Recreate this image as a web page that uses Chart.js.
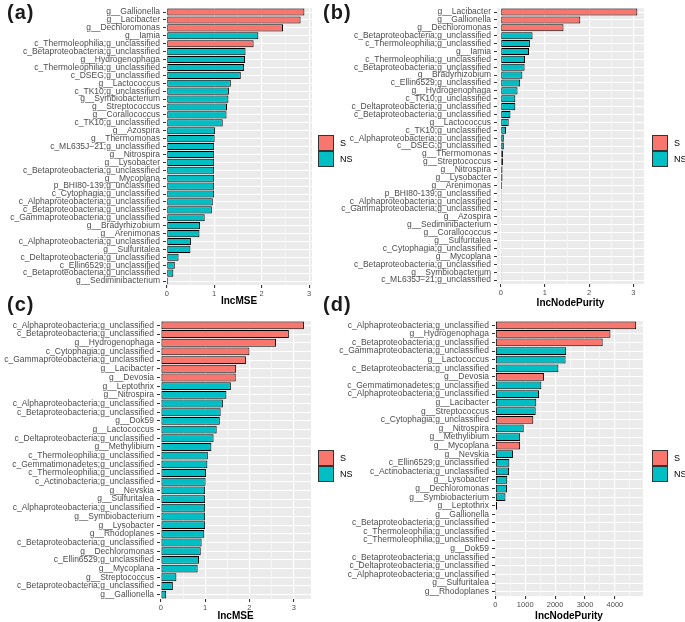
<!DOCTYPE html>
<html>
<head>
<meta charset="utf-8">
<script src="https://cdn.jsdelivr.net/npm/chart.js@4.4.1/dist/chart.umd.min.js"></script>
<style>
  body { margin: 0; background: #fff; font-family: "Liberation Sans", Arial, sans-serif; }
  #wrap { position: relative; width: 685px; height: 622px; overflow: hidden; }
  canvas { position: absolute; }
  .tag { position: absolute; font-weight: bold; font-size: 20px; line-height: 20px; letter-spacing: 1px; color: #1a1a1a; }
  .legend { position: absolute; font-size: 9px; color: #000; }
  .legend .row { position: relative; height: 16px; line-height: 16px; }
  .legend .box { position: absolute; left: 0; top: 0; width: 14px; height: 14px; border: 1px solid #333; }
  .legend .txt { position: absolute; left: 22px; top: 0; }
</style>
</head>
<body>
<div id="wrap">
  <canvas id="chartA" width="345" height="311" style="left:0;top:0"></canvas>
  <canvas id="chartB" width="355" height="311" style="left:330px;top:0"></canvas>
  <canvas id="chartC" width="345" height="311" style="left:0;top:311px"></canvas>
  <canvas id="chartD" width="355" height="311" style="left:330px;top:311px"></canvas>

  <div class="tag" style="left:7px;top:2px">(a)</div>
  <div class="tag" style="left:323px;top:2px">(b)</div>
  <div class="tag" style="left:7px;top:294px">(c)</div>
  <div class="tag" style="left:323px;top:294px">(d)</div>

  <div class="legend" style="left:318px;top:135px">
    <div class="row"><span class="box" style="background:#F8766D"></span><span class="txt">S</span></div>
    <div class="row"><span class="box" style="background:#00BFC4"></span><span class="txt">NS</span></div>
  </div>
  <div class="legend" style="left:652px;top:135px">
    <div class="row"><span class="box" style="background:#F8766D"></span><span class="txt">S</span></div>
    <div class="row"><span class="box" style="background:#00BFC4"></span><span class="txt">NS</span></div>
  </div>
  <div class="legend" style="left:318px;top:450px">
    <div class="row"><span class="box" style="background:#F8766D"></span><span class="txt">S</span></div>
    <div class="row"><span class="box" style="background:#00BFC4"></span><span class="txt">NS</span></div>
  </div>
  <div class="legend" style="left:652px;top:450px">
    <div class="row"><span class="box" style="background:#F8766D"></span><span class="txt">S</span></div>
    <div class="row"><span class="box" style="background:#00BFC4"></span><span class="txt">NS</span></div>
  </div>
</div>

<script>
// (a) IncMSE
const aLabels = ['g__Gallionella', 'g__Lacibacter', 'g__Dechloromonas', 'g__Iamia',
  'c_Thermoleophilia;g_unclassified', 'c_Betaproteobacteria;g_unclassified', 'g__Hydrogenophaga',
  'c_Thermoleophilia;g_unclassified', 'c_DSEG;g_unclassified', 'g__Lactococcus', 'c_TK10;g_unclassified',
  'g__Symbiobacterium', 'g__Streptococcus', 'g__Corallococcus', 'c_TK10;g_unclassified', 'g__Azospira',
  'g__Thermomonas', 'c_ML635J\u221221;g_unclassified', 'g__Nitrospira', 'g__Lysobacter',
  'c_Betaproteobacteria;g_unclassified', 'g__Mycoplana', 'p_BHI80-139;g_unclassified',
  'c_Cytophagia;g_unclassified', 'c_Alphaproteobacteria;g_unclassified', 'c_Betaproteobacteria;g_unclassified',
  'c_Gammaproteobacteria;g_unclassified', 'g__Bradyrhizobium', 'g__Arenimonas',
  'c_Alphaproteobacteria;g_unclassified', 'g__Sulfuritalea', 'c_Deltaproteobacteria;g_unclassified',
  'c_Ellin6529;g_unclassified', 'c_Betaproteobacteria;g_unclassified', 'g__Sediminibacterium'];
const aValues = [2.90, 2.82, 2.45, 1.93, 1.83, 1.66, 1.65, 1.63, 1.56, 1.35, 1.31, 1.30, 1.27, 1.26, 1.18,
  1.02, 1.01, 1.0, 1.0, 1.0, 1.0, 1.0, 1.0, 1.0, 0.97, 0.95, 0.80, 0.70, 0.69, 0.51, 0.50, 0.25, 0.17, 0.14, 0.03];
const aGroups = ['S', 'S', 'S', 'NS', 'S', 'NS', 'NS', 'NS', 'NS', 'NS', 'NS', 'NS', 'NS', 'NS', 'NS', 'NS', 'NS',
  'NS', 'NS', 'NS', 'NS', 'NS', 'NS', 'NS', 'NS', 'NS', 'NS', 'NS', 'NS', 'NS', 'NS', 'NS', 'NS', 'NS', 'NS'];

// (b) IncNodePurity
const bLabels = ['g__Lacibacter', 'g__Gallionella', 'g__Dechloromonas', 'c_Betaproteobacteria;g_unclassified',
  'c_Thermoleophilia;g_unclassified', 'g__Iamia', 'c_Thermoleophilia;g_unclassified',
  'c_Betaproteobacteria;g_unclassified', 'g__Bradyrhizobium', 'c_Ellin6529;g_unclassified', 'g__Hydrogenophaga',
  'c_TK10;g_unclassified', 'c_Deltaproteobacteria;g_unclassified', 'c_Betaproteobacteria;g_unclassified',
  'g__Lactococcus', 'c_TK10;g_unclassified', 'c_Alphaproteobacteria;g_unclassified', 'c__DSEG;g_unclassified',
  'g__Thermomonas', 'g__Streptococcus', 'g__Nitrospira', 'g__Lysobacter', 'g__Arenimonas',
  'p_BHI80-139;g_unclassified', 'c_Alphaproteobacteria;g_unclassified', 'c_Gammaproteobacteria;g_unclassified',
  'g__Azospira', 'g__Sediminibacterium', 'g__Corallococcus', 'g__Sulfuritalea', 'c_Cytophagia;g_unclassified',
  'g__Mycoplana', 'c_Betaproteobacteria;g_unclassified', 'g__Symbiobacterium', 'c_ML635J\u221221;g_unclassified'];
const bValues = [3.09, 1.80, 1.42, 0.72, 0.66, 0.64, 0.55, 0.54, 0.49, 0.44, 0.38, 0.33, 0.33, 0.22, 0.18, 0.12,
  0.07, 0.07, 0.05, 0.05, 0.04, 0.04, 0.03, 0.02, 0.02, 0.02, 0.02, 0.01, 0.01, 0.01, 0.01, 0.005, 0.005, 0.003, 0.002];
const bGroups = ['S', 'S', 'S', 'NS', 'NS', 'NS', 'NS', 'NS', 'NS', 'NS', 'NS', 'NS', 'NS', 'NS', 'NS', 'NS', 'NS',
  'NS', 'NS', 'NS', 'NS', 'NS', 'NS', 'NS', 'NS', 'NS', 'NS', 'NS', 'NS', 'NS', 'NS', 'NS', 'NS', 'NS', 'NS'];

// (c) IncMSE
const cLabels = ['c_Alphaproteobacteria;g_unclassified', 'c_Betaproteobacteria;g_unclassified', 'g__Hydrogenophaga',
  'c_Cytophagia;g_unclassified', 'c_Gammaproteobacteria;g_unclassified', 'g__Lacibacter', 'g__Devosia',
  'g__Leptothrix', 'g__Nitrospira', 'c_Alphaproteobacteria;g_unclassified', 'c_Betaproteobacteria;g_unclassified',
  'g__Dok59', 'g__Lactococcus', 'c_Deltaproteobacteria;g_unclassified', 'g__Methylibium',
  'c_Thermoleophilia;g_unclassified', 'c_Gemmatimonadetes;g_unclassified', 'c_Thermoleophilia;g_unclassified',
  'c_Actinobacteria;g_unclassified', 'g__Nevskia', 'g__Sulfuritalea', 'c_Alphaproteobacteria;g_unclassified',
  'g__Symbiobacterium', 'g__Lysobacter', 'g__Rhodoplanes', 'c_Betaproteobacteria;g_unclassified',
  'g__Dechloromonas', 'c_Ellin6529;g_unclassified', 'g__Mycoplana', 'g__Streptococcus',
  'c_Betaproteobacteria;g_unclassified', 'g__Gallionella'];
const cValues = [3.23, 2.89, 2.60, 2.00, 1.92, 1.70, 1.69, 1.58, 1.48, 1.40, 1.35, 1.33, 1.26, 1.19, 1.14, 1.06,
  1.05, 1.02, 1.01, 1.0, 1.0, 1.0, 1.0, 1.0, 0.98, 0.92, 0.90, 0.86, 0.83, 0.35, 0.27, 0.12];
const cGroups = ['S', 'S', 'S', 'S', 'S', 'S', 'S', 'NS', 'NS', 'NS', 'NS', 'NS', 'NS', 'NS', 'NS', 'NS', 'NS',
  'NS', 'NS', 'NS', 'NS', 'NS', 'NS', 'NS', 'NS', 'NS', 'NS', 'NS', 'NS', 'NS', 'NS', 'NS'];

// (d) IncNodePurity
const dLabels = ['c_Alphaproteobacteria;g_unclassified', 'g__Hydrogenophaga', 'c_Betaproteobacteria;g_unclassified',
  'c_Gammaproteobacteria;g_unclassified', 'g__Lactococcus', 'c_Betaproteobacteria;g_unclassified', 'g__Devosia',
  'c_Gemmatimonadetes;g_unclassified', 'c_Alphaproteobacteria;g_unclassified', 'g__Lacibacter', 'g__Streptococcus',
  'c_Cytophagia;g_unclassified', 'g__Nitrospira', 'g__Methylibium', 'g__Mycoplana', 'g__Nevskia',
  'c_Ellin6529;g_unclassified', 'c_Actinobacteria;g_unclassified', 'g__Lysobacter', 'g__Dechloromonas',
  'g__Symbiobacterium', 'g__Leptothrix', 'g__Gallionella', 'c_Betaproteobacteria;g_unclassified',
  'c_Thermoleophilia;g_unclassified', 'c_Thermoleophilia;g_unclassified', 'g__Dok59',
  'c_Betaproteobacteria;g_unclassified', 'c_Deltaproteobacteria;g_unclassified',
  'c_Alphaproteobacteria;g_unclassified', 'g__Sulfuritalea', 'g__Rhodoplanes'];
const dValues = [4710, 3850, 3590, 2370, 2350, 2110, 1630, 1540, 1460, 1370, 1350, 1270, 950, 830, 830, 590,
  470, 460, 400, 390, 340, 60, 30, 25, 20, 15, 12, 10, 8, 6, 5, 3];
const dGroups = ['S', 'S', 'S', 'NS', 'NS', 'NS', 'S', 'NS', 'NS', 'NS', 'NS', 'S', 'NS', 'NS', 'S', 'NS', 'NS',
  'NS', 'NS', 'NS', 'NS', 'NS', 'NS', 'NS', 'NS', 'NS', 'NS', 'NS', 'NS', 'NS', 'NS', 'NS'];

const RED = '#F8766D';
const TEAL = '#00BFC4';
const FONT = '"Liberation Sans", Arial, sans-serif';

// grey ggplot panel
const panelBg = {
  id: 'panelBg',
  beforeDraw(chart) {
    const { ctx, chartArea: a } = chart;
    ctx.save();
    ctx.fillStyle = '#EBEBEB';
    ctx.fillRect(a.left, a.top, a.right - a.left, a.bottom - a.top);
    ctx.restore();
  }
};

function makeChart(id, labels, values, groups, p) {
  const isMajor = v => Math.abs(v / p.major - Math.round(v / p.major)) < 1e-6;
  return new Chart(document.getElementById(id), {
    type: 'bar',
    data: {
      labels: labels,
      datasets: [{
        data: values,
        backgroundColor: groups.map(g => g === 'S' ? RED : TEAL),
        borderColor: '#000',
        borderWidth: 1,
        borderSkipped: false,
        barPercentage: 0.9,
        categoryPercentage: 1
      }]
    },
    options: {
      indexAxis: 'y',
      responsive: false,
      animation: false,
      layout: { padding: { top: p.top, right: p.right, left: 0, bottom: 0 } },
      plugins: { legend: { display: false }, tooltip: { enabled: false } },
      scales: {
        x: {
          min: p.min,
          max: p.max,
          afterBuildTicks(scale) {
            const t = [];
            for (let v = 0; v <= p.max + 1e-9; v += p.major / 2) t.push({ value: v });
            scale.ticks = t;
          },
          afterFit(scale) { scale.height = p.xh; },
          border: { display: false },
          grid: {
            color: '#fff',
            lineWidth: c => isMajor(c.tick.value) ? 1.1 : 0.5,
            tickColor: c => isMajor(c.tick.value) ? '#333' : 'rgba(0,0,0,0)',
            tickLength: 3
          },
          ticks: {
            autoSkip: false,
            maxRotation: 0,
            padding: 1,
            color: '#4D4D4D',
            font: { family: FONT, size: 7.5 },
            callback: v => isMajor(v) ? v : ''
          },
          title: {
            display: true,
            text: p.title,
            color: '#000',
            font: { family: FONT, size: 10, weight: 'bold' },
            padding: { top: 0, bottom: p.tpad }
          }
        },
        y: {
          afterFit(scale) { scale.width = p.yw; },
          border: { display: false },
          grid: { color: '#fff', lineWidth: 1, offset: false, tickLength: 3, tickColor: '#333' },
          ticks: {
            autoSkip: false,
            padding: 3,
            color: '#4D4D4D',
            font: { family: FONT, size: 8.5 }
          }
        }
      }
    },
    plugins: [panelBg]
  });
}

makeChart('chartA', aLabels, aValues, aGroups,
  { min: -0.015, max: 3.06, major: 1, title: 'IncMSE', top: 2, right: 33, yw: 166, xh: 26, tpad: 4 });
makeChart('chartB', bLabels, bValues, bGroups,
  { min: -0.084, max: 3.24, major: 1, title: 'IncNodePurity', top: 3, right: 41, yw: 167, xh: 27, tpad: 2 });
makeChart('chartC', cLabels, cValues, cGroups,
  { min: -0.02, max: 3.39, major: 1, title: 'IncMSE', top: 10, right: 34, yw: 160, xh: 23, tpad: 0 });
makeChart('chartD', dLabels, dValues, dGroups,
  { min: -10, max: 4938, major: 1000, title: 'IncNodePurity', top: 10, right: 42, yw: 165, xh: 26, tpad: 0 });
</script>
</body>
</html>
